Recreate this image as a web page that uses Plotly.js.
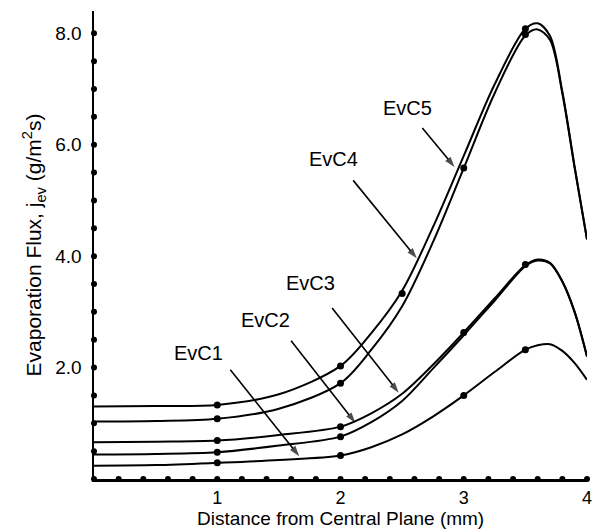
<!DOCTYPE html>
<html>
<head>
<meta charset="utf-8">
<script src="https://cdn.plot.ly/plotly-3.0.1.min.js"></script>
<style>html,body{margin:0;padding:0;background:#fff;}#chart{width:593px;height:531px;}</style>
</head>
<body>
<div id="chart"></div>
<script>
// Curve sample positions (mm) and values
const xs    = [0, 0.5, 1, 1.5, 2, 2.25, 2.5, 2.75, 3, 3.25, 3.5, 3.6, 3.7, 3.8, 3.9, 4];
const evc5  = [1.30,1.31,1.33,1.52,2.03,2.62,3.38,4.52,5.80,7.08,8.08,8.18,7.95,6.95,5.60,4.30];
const evc4  = [1.03,1.04,1.08,1.26,1.72,2.32,3.10,4.25,5.58,6.92,7.96,8.07,7.88,6.92,5.58,4.30];
const evc3  = [0.66,0.67,0.69,0.79,0.94,1.18,1.53,2.05,2.63,3.24,3.84,3.94,3.88,3.55,3.00,2.20];
const evc2  = [0.44,0.45,0.48,0.60,0.76,1.02,1.40,1.98,2.58,3.20,3.82,3.92,3.87,3.54,2.99,2.20];
const evc1  = [0.24,0.25,0.29,0.34,0.42,0.57,0.80,1.12,1.50,1.92,2.32,2.40,2.42,2.30,2.08,1.78];

// Data markers on the curves
const mk5x = [1, 2, 2.5, 3.5],  mk5y = [1.33, 2.03, 3.33, 8.08];
const mk4x = [1, 2, 3, 3.5],    mk4y = [1.08, 1.72, 5.58, 7.98];
const mk3x = [1, 2, 3, 3.5],    mk3y = [0.69, 0.94, 2.63, 3.85];
const mk2x = [1, 2],            mk2y = [0.48, 0.76];
const mk1x = [1, 2, 3, 3.5],    mk1y = [0.29, 0.42, 1.50, 2.32];

// Axis tick dots and labels
const xDots = [0.2,0.4,0.6,0.8,1.0,1.2,1.4,1.6,1.8,2.0,2.2,2.4,2.6,2.8,3.0,3.2,3.4,3.6,3.8,4.0];
const yDots = [0,0.5,1.0,1.5,2.0,2.5,3.0,3.5,4.0,4.5,5.0,5.5,6.0,6.5,7.0,7.5,8.0];
const xTicks = [1, 2, 3, 4];
const yTicks = [2, 4, 6, 8];
const xTitle = 'Distance from Central Plane (mm)';
const yTitle = 'Evaporation Flux, j<sub>ev</sub> (g/m<sup>2</sup>s)';

// Curve labels: text, x, y
const labelText = ['EvC1', 'EvC2', 'EvC3', 'EvC4', 'EvC5'];
const labelX    = [0.85, 1.39, 1.76, 1.94, 2.54];
const labelY    = [2.26, 2.86, 3.51, 5.75, 6.66];
// Arrows: tail (x, y) -> head (x, y)
const arrowTailX = [1.106, 1.599, 1.932, 2.103, 2.664];
const arrowTailY = [1.96, 2.48, 3.07, 5.36, 6.30];
const arrowHeadX = [1.665, 2.12, 2.472, 2.619, 2.925];
const arrowHeadY = [0.41, 1.01, 1.55, 3.96, 5.60];

const FONT = 'Liberation Sans, Arial, Helvetica, sans-serif';
const lineStyle = {color: '#000', width: 2, shape: 'spline', smoothing: 0.9};
const curves = [['EvC1', evc1], ['EvC2', evc2], ['EvC3', evc3], ['EvC4', evc4], ['EvC5', evc5]];
const traces = curves.map(c => ({x: xs, y: c[1], name: c[0], mode: 'lines', line: lineStyle, hoverinfo: 'skip'}));
const marks = [[mk1x, mk1y], [mk2x, mk2y], [mk3x, mk3y], [mk4x, mk4y], [mk5x, mk5y]];
marks.forEach(m => traces.push({x: m[0], y: m[1], mode: 'markers', marker: {color: '#000', size: 7}, hoverinfo: 'skip'}));
traces.push({x: xDots, y: xDots.map(() => 0), mode: 'markers', marker: {color: '#000', size: 6}, cliponaxis: false, hoverinfo: 'skip'});
traces.push({x: yDots.map(() => 0), y: yDots, mode: 'markers', marker: {color: '#000', size: 6}, cliponaxis: false, hoverinfo: 'skip'});
for (let i = 0; i < arrowTailX.length; i++) {
  traces.push({x: [arrowTailX[i], arrowHeadX[i]], y: [arrowTailY[i], arrowHeadY[i]], mode: 'lines+markers',
    line: {color: '#000', width: 1.6},
    marker: {color: '#000', symbol: 'arrow', angleref: 'previous', size: [0, 11], line: {width: 0}},
    hoverinfo: 'skip'});
}

const annotations = labelText.map((t, i) => ({x: labelX[i], y: labelY[i], xref: 'x', yref: 'y', text: t,
  showarrow: false, font: {family: FONT, size: 20, color: '#000'}}));
annotations.push({x: 0.5, y: 0, xref: 'paper', yref: 'paper', xanchor: 'center', yanchor: 'top', yshift: -27,
  text: xTitle, showarrow: false, font: {family: FONT, size: 19, color: '#000'}});

const layout = {
  width: 593, height: 531,
  margin: {l: 94, r: 6, t: 11, b: 52},
  paper_bgcolor: '#fff', plot_bgcolor: '#fff',
  showlegend: false,
  font: {family: FONT, size: 19, color: '#000'},
  xaxis: {range: [0, 4], showgrid: false, zeroline: false, showline: true, linecolor: '#000', linewidth: 2.5,
    tickmode: 'array', tickvals: xTicks, ticktext: xTicks.map(String), ticks: '', ticklabelstandoff: 1,
    tickfont: {family: FONT, size: 18}},
  yaxis: {range: [0, 8.4], showgrid: false, zeroline: false, showline: true, linecolor: '#000', linewidth: 2.5,
    tickmode: 'array', tickvals: yTicks, ticktext: yTicks.map(v => v.toFixed(1)), ticks: '', ticklabelstandoff: 6,
    title: {text: yTitle, font: {family: FONT, size: 21}, standoff: 8}},
  annotations: annotations
};

Plotly.newPlot('chart', traces, layout, {displayModeBar: false, staticPlot: true});
</script>
</body>
</html>
